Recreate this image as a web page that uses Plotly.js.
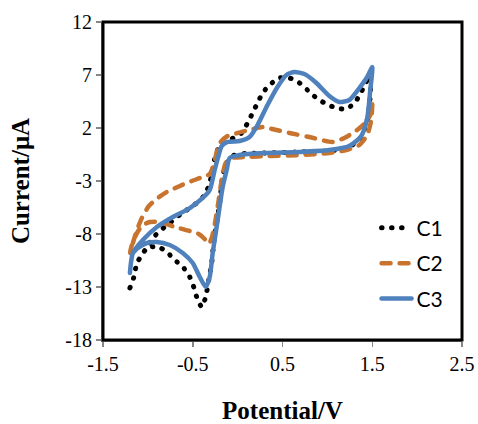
<!DOCTYPE html>
<html>
<head>
<meta charset="utf-8">
<script src="https://cdn.plot.ly/plotly-3.0.1.min.js"></script>
<style>
html,body{margin:0;padding:0;background:#fff;}
#chart{width:478px;height:424px;}
.scatterlayer .js-line{stroke-linecap:round;stroke-linejoin:round;}
.legend .js-line{stroke-linecap:round;}
</style>
</head>
<body>
<div id="chart"></div>
<script>
// Series C1 (dotted black)
const c1_x = [-1.2,-1.156,-1.122,-1.067,-1.0,-0.933,-0.856,-0.767,-0.678,-0.567,-0.456,-0.367,-0.322,-0.289,-0.267,-0.233,-0.189,-0.089,0.044,0.111,0.167,0.222,0.278,0.356,0.467,0.578,0.689,0.778,0.878,0.989,1.1,1.211,1.311,1.378,1.433,1.478,
  1.478,1.444,1.378,1.244,1.022,0.689,0.3,0.022,-0.056,-0.122,-0.167,-0.2,-0.233,-0.267,-0.289,-0.322,-0.356,-0.4,-0.456,-0.489,-0.533,-0.6,-0.7,-0.789,-0.878,-0.978,-1.033];
const c1_y = [-13.09,-12.06,-10.74,-9.98,-9.13,-8.28,-7.62,-7.06,-6.40,-5.74,-5.08,-4.32,-3.47,-2.43,-1.30,-0.26,0.49,0.87,1.53,2.47,3.42,4.36,5.30,6.06,6.72,6.72,6.25,5.58,4.83,4.26,3.89,3.79,4.45,5.40,6.34,6.91,
  5.11,2.75,1.15,0.21,-0.17,-0.26,-0.36,-0.45,-0.64,-1.30,-2.62,-5.08,-6.96,-8.85,-10.74,-12.34,-13.94,-14.89,-13.94,-13.0,-12.06,-11.21,-10.45,-9.70,-9.23,-9.23,-9.60];

// Series C2 (dashed orange)
const c2_x = [-1.2,-1.167,-1.122,-1.067,-0.989,-0.889,-0.789,-0.644,-0.511,-0.389,-0.311,-0.267,-0.233,-0.189,-0.111,0.0,0.133,0.278,0.433,0.578,0.8,1.056,1.189,1.3,1.411,1.478,1.5,
  1.489,1.444,1.356,1.211,1.022,0.689,0.356,0.078,-0.067,-0.133,-0.178,-0.211,-0.256,-0.289,-0.322,-0.367,-0.433,-0.533,-0.7,-0.867,-0.978,-1.056,-1.122,-1.178,-1.2];
const c2_y = [-9.79,-8.85,-7.62,-6.49,-5.36,-4.60,-4.04,-3.47,-3.0,-2.62,-2.34,-1.49,-0.26,0.68,1.25,1.53,1.81,2.09,1.81,1.53,1.15,0.68,1.06,1.62,2.38,3.23,4.45,
  2.75,1.34,0.40,-0.08,-0.36,-0.55,-0.64,-0.74,-0.83,-1.30,-2.91,-4.79,-7.15,-8.38,-8.94,-8.47,-8.0,-7.72,-7.34,-6.87,-6.87,-7.15,-7.91,-9.04,-9.79];

// Series C3 (solid blue)
const c3_x = [-1.2,-1.189,-1.167,-1.056,-0.9,-0.722,-0.533,-0.389,-0.311,-0.256,-0.211,-0.178,-0.111,0.022,0.133,0.222,0.333,0.444,0.544,0.633,0.744,0.878,1.022,1.133,1.244,1.356,1.444,1.5,
  1.478,1.444,1.378,1.244,1.022,0.689,0.3,0.022,-0.089,-0.122,-0.167,-0.222,-0.278,-0.311,-0.356,-0.422,-0.5,-0.611,-0.756,-0.9,-1.011,-1.111,-1.167];
const c3_y = [-11.68,-10.74,-9.79,-8.57,-7.34,-6.40,-5.55,-4.60,-3.85,-1.96,-0.55,0.30,0.68,0.77,1.15,2.28,4.17,5.87,7.0,7.28,7.09,6.25,5.02,4.45,4.64,5.77,6.81,7.75,
  5.58,2.94,1.25,0.30,-0.08,-0.26,-0.36,-0.55,-0.83,-1.96,-3.57,-6.68,-9.79,-12.06,-13.0,-12.06,-10.74,-9.79,-9.04,-8.75,-8.85,-9.32,-9.79];

const seriesNames = ['C1','C2','C3'];
const xTicks = [-1.5,-0.5,0.5,1.5,2.5];
const xTickText = ['-1.5','-0.5','0.5','1.5','2.5'];
const yTicks = [12,7,2,-3,-8,-13,-18];
const yTickText = ['12','7','2','-3','-8','-13','-18'];

const traces = [
  {x:c1_x, y:c1_y, name:seriesNames[0], mode:'lines', legendgroup:'a',
   line:{color:'#000000', width:5, dash:'0.5px,9.5px', shape:'spline', smoothing:0.6}},
  {x:c2_x, y:c2_y, name:seriesNames[1], mode:'lines', legendgroup:'b',
   line:{color:'#C8742F', width:4.5, dash:'9px,9px', shape:'spline', smoothing:0.6}},
  {x:c3_x, y:c3_y, name:seriesNames[2], mode:'lines', legendgroup:'c',
   line:{color:'#4F81BD', width:4.5, shape:'spline', smoothing:0.6}}
];

const layout = {
  width:478, height:424,
  margin:{l:103, r:16, t:22, b:84},
  paper_bgcolor:'#ffffff', plot_bgcolor:'#ffffff',
  font:{family:'Liberation Serif, serif', color:'#000'},
  showlegend:true,
  legend:{x:0.762, y:0.416, xanchor:'left', yanchor:'top', tracegroupgap:5,
    font:{family:'Lato, sans-serif', size:21, color:'#000'}, bgcolor:'rgba(0,0,0,0)'},
  xaxis:{range:[-1.5,2.5], tickvals:xTicks, ticktext:xTickText,
    showgrid:false, zeroline:false, showline:true, linecolor:'#868686', linewidth:2,
    ticks:'outside', ticklen:5, tickcolor:'#868686', tickwidth:1.5,
    tickfont:{family:'Liberation Serif, serif', size:20, color:'#000'},
    title:{text:'<b>Potential/V</b>', font:{family:'Liberation Serif, serif', size:25, color:'#000'}, standoff:34}},
  yaxis:{range:[-18,12], tickvals:yTicks, ticktext:yTickText,
    showgrid:false, zeroline:false, showline:true, linecolor:'#868686', linewidth:2,
    ticks:'outside', ticklen:5, tickcolor:'#868686', tickwidth:1.5,
    tickfont:{family:'Liberation Serif, serif', size:20, color:'#000'},
    title:{text:'<b>Current/μA</b>', font:{family:'Liberation Serif, serif', size:25, color:'#000'}, standoff:29}},
  shapes:[{type:'rect', xref:'paper', yref:'paper', x0:0, x1:1, y0:0, y1:1,
    line:{color:'#000', width:3}, layer:'above'}]
};

Plotly.newPlot('chart', traces, layout, {displayModeBar:false, staticPlot:true});
</script>
</body>
</html>
